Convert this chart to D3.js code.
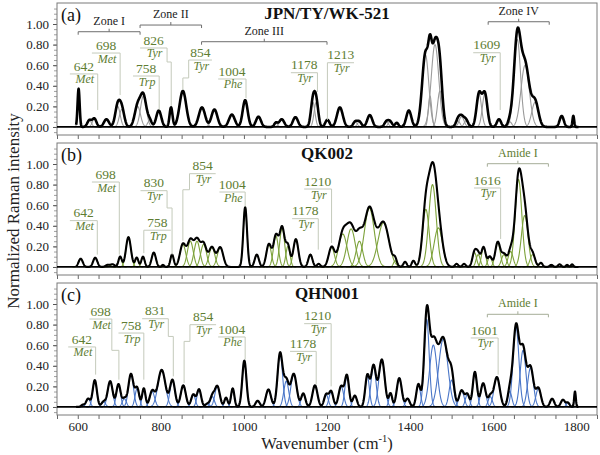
<!DOCTYPE html>
<html>
<head>
<meta charset="utf-8">
<script src="https://cdn.jsdelivr.net/npm/d3@7/dist/d3.min.js"></script>
<style>
  body { margin: 0; background: #fff; }
  svg, svg text { font-family: "Liberation Serif", serif; }
</style>
</head>
<body>
<div id="chart"></div>
<script>
// ---- data ----
const panelTags = ['(a)', '(b)', '(c)'];
const sampleNames = ['JPN/TY/WK-521', 'QK002', 'QHN001'];
const xTickLabels = [600, 800, 1000, 1200, 1400, 1600, 1800];
const yTickLabels = [0, 0.2, 0.4, 0.6, 0.8, 1.0];

// fitted bands: [centre (cm-1), height, sigma]
const bandsA = [
  [602, 0.37, 2.5], [628, 0.065, 5], [640, 0.08, 5], [669, 0.075, 6], [696, 0.2, 6], [706, 0.17, 6],
  [744, 0.2, 7], [758, 0.3, 7], [773, 0.06, 5], [795, 0.16, 6], [824.5, 0.19, 3.5], [853, 0.35, 8],
  [899, 0.19, 7.5], [929, 0.17, 7], [971, 0.12, 7], [1003, 0.26, 6], [1035, 0.1, 6], [1077, 0.04, 4],
  [1091, 0.075, 6], [1124, 0.095, 6], [1166, 0.24, 5], [1174, 0.24, 5], [1201, 0.07, 5], [1231, 0.19, 7],
  [1268, 0.05, 5], [1278, 0.05, 5], [1303, 0.115, 6], [1343, 0.05, 5], [1352, 0.05, 5], [1368, 0.04, 4],
  [1397, 0.16, 6], [1437, 0.7, 8], [1448, 0.3, 4], [1460, 0.8, 9], [1472, 0.35, 6], [1515, 0.06, 5],
  [1524, 0.1, 6], [1535, 0.06, 5], [1566, 0.32, 6], [1580, 0.32, 6], [1614, 0.075, 5], [1640, 0.05, 5],
  [1658, 0.85, 8], [1677, 0.6, 10], [1701, 0.24, 8], [1765, 0.107, 5], [1793, 0.107, 2]
];
const bandsB = [
  [607, 0.08, 5], [642, 0.09, 5], [672, 0.02, 5], [684, 0.025, 5], [702, 0.1, 4], [722, 0.29, 6],
  [742, 0.09, 4], [757, 0.1, 4], [783, 0.14, 5], [805, 0.02, 3], [827, 0.12, 4], [853, 0.22, 7],
  [871, 0.25, 7], [887, 0.25, 7], [903, 0.22, 7], [923, 0.19, 7], [943, 0.19, 7], [1003, 0.58, 4.5],
  [1031, 0.12, 5], [1060, 0.22, 6], [1077, 0.3, 6], [1092, 0.38, 6], [1106, 0.2, 5], [1125, 0.27, 6],
  [1160, 0.12, 5], [1180, 0.03, 4], [1211, 0.19, 7], [1238, 0.32, 10], [1258, 0.37, 10], [1278, 0.25, 8],
  [1302, 0.57, 12], [1336, 0.43, 13], [1364, 0.06, 4], [1388, 0.05, 4], [1408, 0.06, 4], [1438, 0.56, 8],
  [1454, 0.8, 9], [1468, 0.38, 10], [1512, 0.03, 4], [1530, 0.03, 4], [1555, 0.14, 5], [1564, 0.12, 5],
  [1577, 0.19, 5], [1592, 0.1, 5], [1611, 0.24, 6], [1626, 0.12, 6], [1642, 0.15, 6], [1661, 0.85, 8],
  [1676, 0.5, 8], [1695, 0.12, 6], [1715, 0.04, 4], [1740, 0.02, 4], [1760, 0.025, 4], [1778, 0.02, 3],
  [1790, 0.025, 3]
];
const bandsC = [
  [612, 0.02, 4], [625, 0.08, 5], [641, 0.26, 5], [662, 0.05, 5], [678, 0.25, 6], [698, 0.22, 5],
  [712, 0.08, 5], [728, 0.32, 6], [743, 0.18, 5], [759, 0.18, 4], [779, 0.15, 6], [802, 0.36, 9],
  [828, 0.26, 6], [854, 0.21, 6], [878, 0.12, 5], [892, 0.17, 5], [912, 0.03, 5], [924, 0.1, 5],
  [936, 0.2, 6], [957, 0.09, 4], [973, 0.18, 4], [1001, 0.45, 5], [1033, 0.06, 5], [1059, 0.17, 6],
  [1087, 0.52, 6], [1102, 0.25, 6], [1120, 0.32, 7], [1143, 0.13, 5], [1171, 0.21, 6], [1198, 0.12, 5],
  [1210, 0.15, 5], [1234, 0.2, 6], [1248, 0.3, 5], [1267, 0.11, 5], [1297, 0.3, 5], [1312, 0.4, 6],
  [1332, 0.46, 7], [1353, 0.13, 4], [1374, 0.28, 6], [1394, 0.08, 5], [1420, 0.22, 5], [1440, 0.85, 6],
  [1456, 0.6, 9], [1480, 0.66, 11], [1500, 0.26, 6], [1524, 0.16, 6], [1538, 0.12, 5], [1556, 0.34, 5],
  [1576, 0.23, 6], [1593, 0.1, 5], [1609, 0.29, 7], [1640, 0.15, 5], [1655, 0.78, 7], [1672, 0.55, 7],
  [1690, 0.38, 7], [1709, 0.18, 6], [1742, 0.08, 5], [1768, 0.07, 5], [1780, 0.04, 4], [1797, 0.15, 2]
];

// band assignments: [wavenumber label, residue]
const notesA = [['642', 'Met'], ['698', 'Met'], ['758', 'Trp'], ['826', 'Tyr'], ['854', 'Tyr'],
  ['1004', 'Phe'], ['1178', 'Tyr'], ['1213', 'Tyr'], ['1609', 'Tyr']];
const notesB = [['642', 'Met'], ['698', 'Met'], ['830', 'Tyr'], ['758', 'Trp'], ['854', 'Tyr'],
  ['1004', 'Phe'], ['1178', 'Tyr'], ['1210', 'Tyr'], ['1616', 'Tyr']];
const notesC = [['642', 'Met'], ['698', 'Met'], ['758', 'Trp'], ['831', 'Tyr'], ['854', 'Tyr'],
  ['1004', 'Phe'], ['1178', 'Tyr'], ['1210', 'Tyr'], ['1601', 'Tyr']];

const zonesA = ['Zone I', 'Zone II', 'Zone III', 'Zone IV'];
const zonesB = ['Amide I'];
const zonesC = ['Amide I'];

// ---- layout of the labels (in data units) ----
const noteLayoutA = [
  { x0: 581, x1: 648, y: 0.515, path: [[648, 0.515], [648, 0.165]] },
  { x0: 634, x1: 702, y: 0.718, path: [[702, 0.718], [702, 0.31]] },
  { x0: 733, x1: 796, y: 0.495, path: [[796, 0.495], [796, 0.165]] },
  { x0: 750, x1: 815, y: 0.767, path: [[815, 0.767], [815, 0.631], [825, 0.631], [825, 0.204]] },
  { x0: 867, x1: 923, y: 0.65, path: [[867, 0.65], [867, 0.476], [853, 0.476], [853, 0.36]] },
  { x0: 938, x1: 1005, y: 0.466, path: [[1005, 0.466], [1005, 0.279]] },
  { x0: 1113, x1: 1177, y: 0.527, path: [[1177, 0.527], [1177, 0.34]] },
  { x0: 1201, x1: 1265, y: 0.624, path: [[1201, 0.624], [1201, 0.068]] },
  { x0: 1552, x1: 1617, y: 0.721, path: [[1617, 0.721], [1617, 0.165]] }
];
const noteLayoutB = [
  { x0: 581, x1: 647, y: 0.45, path: [[647, 0.45], [647, 0.12]] },
  { x0: 634, x1: 700, y: 0.825, path: [[700, 0.825], [700, 0.12]] },
  { x0: 751, x1: 815, y: 0.741, path: [[815, 0.741], [815, 0.573], [827, 0.573], [827, 0.12]] },
  { x0: 759, x1: 824, y: 0.357, path: [[759, 0.357], [759, 0.134]] },
  { x0: 869, x1: 932, y: 0.906, path: [[869, 0.906], [869, 0.75], [853, 0.75], [853, 0.255]] },
  { x0: 941, x1: 1003, y: 0.728, path: [[1003, 0.728], [1003, 0.588]] },
  { x0: 1116, x1: 1179, y: 0.469, path: [[1179, 0.469], [1179, 0.168]] },
  { x0: 1145, x1: 1211, y: 0.757, path: [[1211, 0.757], [1211, 0.233]] },
  { x0: 1554, x1: 1618, y: 0.767, path: [[1618, 0.767], [1618, 0.272]] }
];
const noteLayoutC = [
  { x0: 577, x1: 643, y: 0.583, path: [[643, 0.583], [643, 0.314]] },
  { x0: 628, x1: 682, y: 0.854, path: [[682, 0.854], [682, 0.55], [699, 0.55], [699, 0.265]] },
  { x0: 698, x1: 759, y: 0.718, path: [[759, 0.718], [759, 0.265]] },
  { x0: 755, x1: 818, y: 0.857, path: [[818, 0.857], [818, 0.685], [830, 0.685], [830, 0.297]] },
  { x0: 870, x1: 933, y: 0.799, path: [[870, 0.799], [870, 0.637], [856, 0.637], [856, 0.233]] },
  { x0: 938, x1: 1003, y: 0.68, path: [[1003, 0.68], [1003, 0.459]] },
  { x0: 1111, x1: 1174, y: 0.54, path: [[1174, 0.54], [1174, 0.217]] },
  { x0: 1145, x1: 1210, y: 0.809, path: [[1210, 0.809], [1210, 0.2]] },
  { x0: 1546, x1: 1612, y: 0.67, path: [[1612, 0.67], [1612, 0.314]] }
];
const zoneLayoutA = [
  { x0: 601, x1: 750, y: 0.925 }, { x0: 750, x1: 898, y: 0.99 },
  { x0: 898, x1: 1200, y: 0.828 }, { x0: 1588, x1: 1735, y: 1.022 }
];
const zoneLayoutB = [{ x0: 1586, x1: 1733, y: 1.003 }];
const zoneLayoutC = [{ x0: 1586, x1: 1733, y: 0.9 }];

const panels = [
  { bands: bandsA, notes: notesA, noteLayout: noteLayoutA, zones: zonesA, zoneLayout: zoneLayoutA,
    comp: '#9b9b9b', envWidth: 2.6, zoneColor: '#222', bracketColor: '#6e6e6e' },
  { bands: bandsB, notes: notesB, noteLayout: noteLayoutB, zones: zonesB, zoneLayout: zoneLayoutB,
    comp: '#7da23a', envWidth: 2.1, zoneColor: '#5e7d32', bracketColor: '#a5ad98' },
  { bands: bandsC, notes: notesC, noteLayout: noteLayoutC, zones: zonesC, zoneLayout: zoneLayoutC,
    comp: '#4a76c8', envWidth: 2.2, zoneColor: '#5e7d32', bracketColor: '#a5ad98' }
];

// ---- chart ----
const width = 600, height = 455;
const frameLeft = 57, frameRight = 597, panelTop0 = 3, panelH = 132, panelStep = 140;
const noteColor = '#5e7d32', leaderColor = '#c4cabb';
const serif = '"Liberation Serif", serif';

const svg = d3.select('#chart').append('svg')
  .attr('width', width).attr('height', height)
  .attr('viewBox', `0 0 ${width} ${height}`)
  .attr('font-family', serif);

const x = d3.scaleLinear().domain([550, 1850]).range([frameLeft, frameRight]);

const gauss = (b, w) => b[1] * Math.exp(-((w - b[0]) ** 2) / (2 * b[2] * b[2]));
const grid = d3.range(596, 1806, 0.5);

panels.forEach((p, i) => {
  const top = panelTop0 + i * panelStep;
  const y = d3.scaleLinear().domain([-0.078, 1.204]).range([top + panelH, top]);
  const g = svg.append('g').attr('class', `panel panel-${i}`).attr('font-family', serif);

  const clipId = `clip-${i}`;
  svg.append('clipPath').attr('id', clipId)
    .append('rect').attr('x', frameLeft).attr('y', top).attr('width', frameRight - frameLeft).attr('height', panelH);

  // y axis with minor ticks
  g.append('g')
    .attr('transform', `translate(${frameLeft},0)`)
    .call(d3.axisLeft(y).tickValues(d3.range(-0.05, 1.2, 0.05)).tickSize(3).tickFormat(''))
    .call(a => a.select('.domain').remove())
    .call(a => a.selectAll('line').attr('stroke', '#a0a0a0'));
  g.append('g')
    .attr('class', 'axis y-axis')
    .attr('transform', `translate(${frameLeft},0)`)
    .call(d3.axisLeft(y).tickValues(yTickLabels).tickSize(4).tickPadding(4).tickFormat(d3.format('.2f')))
    .attr('font-family', serif).attr('font-size', 13)
    .call(a => a.select('.domain').remove())
    .call(a => a.selectAll('line').attr('stroke', '#555'))
    .call(a => a.selectAll('text').attr('fill', '#222'));

  // x axis
  g.append('g')
    .attr('class', 'axis x-axis')
    .attr('transform', `translate(0,${top + panelH})`)
    .call(d3.axisBottom(x).tickValues(d3.range(550, 1851, 50)).tickSize(4).tickPadding(3)
      .tickFormat(d => (i === 2 && xTickLabels.includes(d)) ? d : ''))
    .attr('font-family', serif).attr('font-size', 13)
    .call(a => a.select('.domain').remove())
    .call(a => a.selectAll('line').attr('stroke', '#666'))
    .call(a => a.selectAll('text').attr('fill', '#222'));

  // frame
  g.append('rect')
    .attr('x', frameLeft).attr('y', top)
    .attr('width', frameRight - frameLeft).attr('height', panelH)
    .attr('fill', 'none').attr('stroke', '#7a7a7a').attr('stroke-width', 1);

  const plot = g.append('g').attr('clip-path', `url(#${clipId})`);
  const line = d3.line().x(d => x(d[0])).y(d => y(d[1]));

  // component bands
  plot.selectAll('.band')
    .data(p.bands)
    .join('path')
    .attr('class', 'band')
    .attr('fill', 'none')
    .attr('stroke', p.comp)
    .attr('stroke-width', 1.1)
    .attr('d', b => line(d3.range(b[0] - 4 * b[2], b[0] + 4 * b[2] + 0.01, 0.5).map(w => [w, gauss(b, w)])));

  // envelope
  plot.append('path')
    .attr('fill', 'none')
    .attr('stroke', '#000')
    .attr('stroke-width', p.envWidth)
    .attr('stroke-linejoin', 'round')
    .attr('d', line(grid.map(w => [w, d3.sum(p.bands, b => gauss(b, w))])));

  // zero line
  g.append('line')
    .attr('x1', frameLeft).attr('x2', frameRight)
    .attr('y1', y(0)).attr('y2', y(0))
    .attr('stroke', '#000').attr('stroke-width', 1.8);

  // band labels
  p.notes.forEach((n, k) => {
    const L = p.noteLayout[k];
    const ly = y(L.y);
    const mid = (x(L.x0) + x(L.x1)) / 2;
    g.append('line')
      .attr('x1', x(L.x0)).attr('x2', x(L.x1)).attr('y1', ly).attr('y2', ly)
      .attr('stroke', leaderColor).attr('stroke-width', 1);
    g.append('path')
      .attr('d', line(L.path))
      .attr('fill', 'none').attr('stroke', leaderColor).attr('stroke-width', 1);
    g.append('text')
      .attr('x', mid).attr('y', ly - 3.3)
      .attr('text-anchor', 'middle').attr('font-size', 13.5).attr('fill', noteColor)
      .text(n[0]);
    g.append('text')
      .attr('x', mid + 1).attr('y', ly + 9.5)
      .attr('text-anchor', 'middle').attr('font-size', 12).attr('font-style', 'italic').attr('fill', noteColor)
      .text(n[1]);
  });

  // zone brackets
  p.zones.forEach((z, k) => {
    const Z = p.zoneLayout[k];
    const by = y(Z.y), bx0 = x(Z.x0), bx1 = x(Z.x1), bm = (bx0 + bx1) / 2;
    g.append('path')
      .attr('d', `M${bx0},${by + 3}V${by}H${bx1}V${by + 3}M${bm},${by}V${by - 3}`)
      .attr('fill', 'none').attr('stroke', p.bracketColor).attr('stroke-width', 1);
    g.append('text')
      .attr('x', bm).attr('y', by - 7)
      .attr('text-anchor', 'middle').attr('font-size', 12).attr('fill', p.zoneColor)
      .text(z);
  });

  // panel tag and sample name
  g.append('text')
    .attr('x', frameLeft + 4).attr('y', top + 17.5)
    .attr('font-size', 18).attr('fill', '#111')
    .text(panelTags[i]);
  g.append('text')
    .attr('x', (frameLeft + frameRight) / 2).attr('y', top + 15.5)
    .attr('text-anchor', 'middle').attr('font-size', 17).attr('font-weight', 'bold').attr('fill', '#111')
    .text(sampleNames[i]);
});

// axis titles
svg.append('text')
  .attr('transform', 'translate(19,211) rotate(-90)')
  .attr('text-anchor', 'middle').attr('font-size', 17).attr('fill', '#222')
  .text('Normalized Raman intensity');

const xt = svg.append('text')
  .attr('x', 327).attr('y', 449)
  .attr('text-anchor', 'middle').attr('font-size', 16.5).attr('fill', '#222');
xt.append('tspan').text('Wavenumber (cm');
xt.append('tspan').attr('font-size', 10.5).attr('dy', -7).text('-1');
xt.append('tspan').attr('dy', 7).text(')');
</script>
</body>
</html>
